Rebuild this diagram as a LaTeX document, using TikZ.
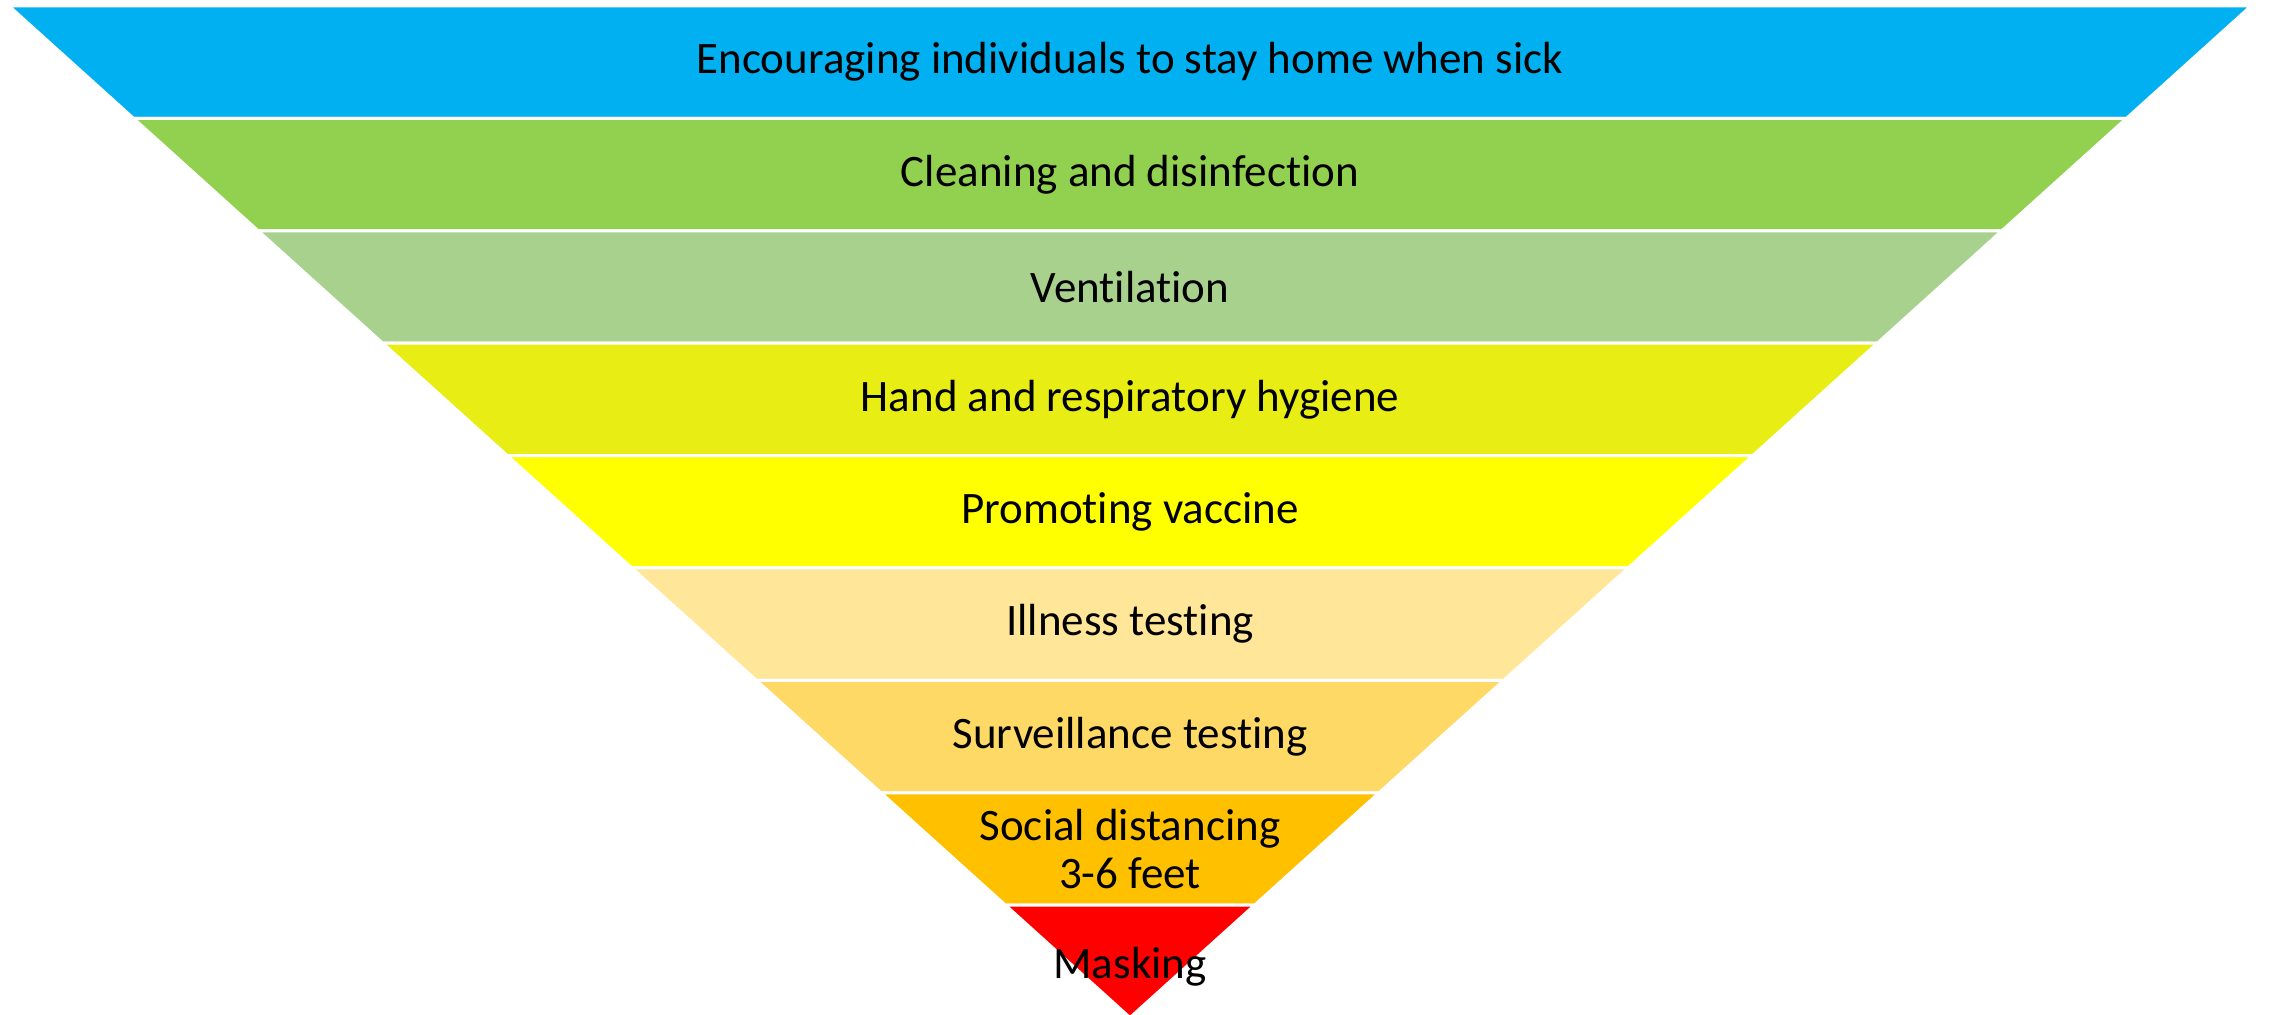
\documentclass[tikz,border=0pt]{standalone}
\usepackage{fontspec}
\setmainfont{Carlito}[Ligatures={NoCommon}]
\usetikzlibrary{calc}
\definecolor{cA}{HTML}{00B0F0}
\definecolor{cB}{HTML}{92D050}
\definecolor{cC}{HTML}{A9D18E}
\definecolor{cD}{HTML}{E8EE14}
\definecolor{cE}{HTML}{FFFF00}
\definecolor{cF}{HTML}{FFE699}
\definecolor{cG}{HTML}{FFD966}
\definecolor{cH}{HTML}{FFC000}
\definecolor{cI}{HTML}{FF0000}
\begin{document}
\begin{tikzpicture}[x=0.5pt,y=-0.5pt,
  band/.style={draw=white, line width=1.5pt, line join=miter},
  lbl/.style={font=\fontsize{22.5}{24}\selectfont, align=center, text=black, inner sep=0pt}]
\useasboundingbox (0,0) rectangle (2270,1015);
\clip (0,0) rectangle (2270,1015);
\coordinate (A) at (9,6);
\coordinate (B) at (2251,6);
\coordinate (C) at (1130,1017.6);
\foreach \k/\col/\dy/\txt in {
  0/cA/0/{Encouraging individuals to stay home when sick},
  1/cB/0/{Cleaning and disinfection},
  2/cC/0/{Ventilation},
  3/cD/0/{Hand and respiratory hygiene},
  4/cE/0/{Promoting vaccine},
  5/cF/0/{Illness testing},
  6/cG/0/{Surveillance testing},
  7/cH/0/{Social distancing\\3-6 feet},
  8/cI/5/{Masking}}{
  \pgfmathsetmacro\ta{\k/9}
  \pgfmathsetmacro\tb{(\k+1)/9}
  \pgfmathsetmacro\yc{6+(\k+0.5)*112.4+\dy}
  \filldraw[band, fill=\col] ($(A)!\ta!(C)$) -- ($(B)!\ta!(C)$) -- ($(B)!\tb!(C)$) -- ($(A)!\tb!(C)$) -- cycle;
  \node[lbl] (t\k) at (1130,\yc) {\txt};
}
\end{tikzpicture}
\end{document}
